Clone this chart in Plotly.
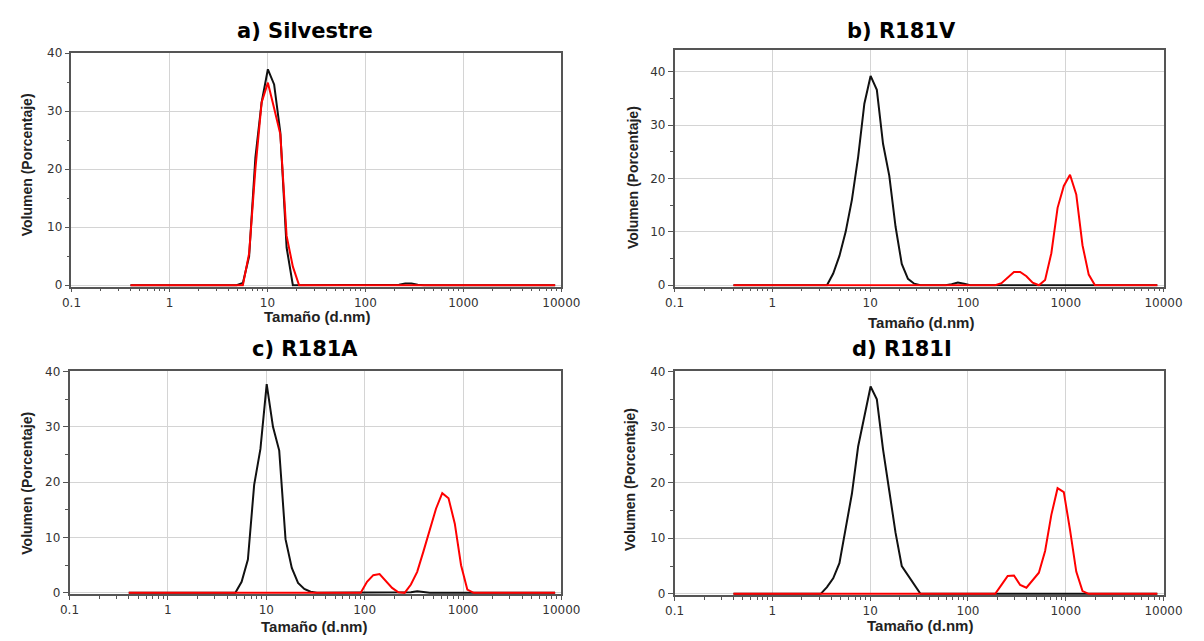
import plotly.graph_objects as go

# ---------------- data (size in nm, volume %) ----------------
a_black_x = [0.4, 4.849, 5.615, 6.503, 7.531, 8.721, 10.1, 11.7, 13.54, 15.69, 18.17, 190.1, 220.2, 255.0, 295.3, 342.0, 396.1, 8635]
a_black_y = [0, 0, 0.4, 5.0, 22.0, 31.5, 37.2, 34.6, 26.3, 6.5, 0, 0, 0.1, 0.3, 0.3, 0.1, 0, 0]
a_red_x = [0.4, 5.615, 6.503, 7.531, 8.721, 10.1, 11.7, 13.54, 15.69, 18.17, 21.04, 8635]
a_red_y = [0, 0, 5.5, 20.0, 31.5, 34.9, 30.5, 26.0, 8.5, 3.2, 0, 0]

b_black_x = [0.4, 3.615, 4.187, 4.849, 5.615, 6.503, 7.531, 8.721, 10.1, 11.7, 13.54, 15.69, 18.17, 21.04, 24.36, 28.21, 32.67, 58.77, 68.06, 78.82, 91.28, 105.7, 8635]
b_black_y = [0, 0, 2.2, 5.5, 10.0, 16.0, 24.0, 34.0, 39.2, 36.6, 26.5, 20.5, 11.0, 4.0, 1.2, 0.3, 0, 0, 0.2, 0.5, 0.3, 0, 0]
b_red_x = [0.4, 190.1, 220.2, 255.0, 295.3, 342.0, 396.1, 458.7, 531.2, 615.1, 712.4, 825.0, 955.4, 1106, 1281, 1484, 1718, 1990, 8635]
b_red_y = [0, 0, 0.4, 1.4, 2.5, 2.5, 1.7, 0.5, 0, 1.0, 6.0, 14.5, 18.6, 20.7, 17.0, 7.5, 2.0, 0, 0]

c_black_x = [0.4, 4.849, 5.615, 6.503, 7.531, 8.721, 10.1, 11.7, 13.54, 15.69, 18.17, 21.04, 24.36, 28.21, 32.67, 255.0, 295.3, 342.0, 396.1, 458.7, 8635]
c_black_y = [0, 0, 2.0, 6.0, 19.5, 26.0, 37.7, 30.0, 25.7, 9.7, 4.5, 1.8, 0.7, 0.2, 0, 0, 0.1, 0.3, 0.1, 0, 0]
c_red_x = [0.4, 91.28, 105.7, 122.4, 141.8, 164.2, 190.1, 220.2, 255.0, 295.3, 342.0, 396.1, 458.7, 531.2, 615.1, 712.4, 825.0, 955.4, 1106, 1281, 8635]
c_red_y = [0, 0, 2.0, 3.2, 3.4, 2.2, 0.9, 0.1, 0, 1.5, 3.8, 7.5, 11.5, 15.2, 18.0, 17.1, 12.5, 5.0, 0.6, 0, 0]

d_black_x = [0.4, 3.122, 3.615, 4.187, 4.849, 5.615, 6.503, 7.531, 8.721, 10.1, 11.7, 13.54, 15.69, 18.17, 21.04, 24.36, 28.21, 32.67, 8635]
d_black_y = [0, 0, 1.2, 2.8, 5.5, 11.5, 18.0, 26.5, 32.0, 37.3, 35.0, 26.0, 18.5, 11.0, 5.0, 3.3, 1.5, 0, 0]
d_red_x = [0.4, 190.1, 220.2, 255.0, 295.3, 342.0, 396.1, 458.7, 531.2, 615.1, 712.4, 825.0, 955.4, 1106, 1281, 1484, 1718, 8635]
d_red_y = [0, 0, 1.6, 3.2, 3.3, 1.6, 1.1, 2.4, 3.8, 7.7, 14.2, 19.0, 18.3, 11.5, 4.0, 0.5, 0, 0]

panel_titles = ["a) Silvestre", "b) R181V", "c) R181A", "d) R181I"]
x_tick_vals = [0.1, 1, 10, 100, 1000, 10000]
x_tick_text = ["0.1", "1", "10", "100", "1000", "10000"]
y_tick_vals = [0, 10, 20, 30, 40]
x_title = "Tamaño (d.nm)"
y_title = "Volumen (Porcentaje)"

W, H = 1204, 641

def px_x(p):
    return p / W

def px_y(p):
    return 1 - p / H

# panel geometry in pixels: (left, right, top, bottom, ymax)
panels = [
    (63, 565, 47, 285.5, 40),
    (681, 1182, 44.2, 285.4, 44),
    (61, 565, 372, 599.4, 40),
    (681, 1182, 372, 600.4, 40),
]

series = [
    (a_black_x, a_black_y, a_red_x, a_red_y),
    (b_black_x, b_black_y, b_red_x, b_red_y),
    (c_black_x, c_black_y, c_red_x, c_red_y),
    (d_black_x, d_black_y, d_red_x, d_red_y),
]

fig = go.Figure()
layout = {}
annotations = []

title_pos = [(302, 24), (914, 24), (302, 349), (914, 349)]
xt_pos = [(315, 316), (933, 322), (312, 632), (932, 631)]
yt_pos = [(17, 161), (639, 174), (18, 486), (636, 482)]

tick_font = dict(family="DejaVu Sans", size=12, color="#333333")

for i, ((l, r, t, b, ymax), (bx, by, rx, ry)) in enumerate(zip(panels, series)):
    n = "" if i == 0 else str(i + 1)
    xa, ya = "x" + n, "y" + n
    fig.add_trace(go.Scatter(x=bx, y=by, mode="lines", xaxis=xa, yaxis=ya,
                             line=dict(color="#111111", width=2), showlegend=False))
    fig.add_trace(go.Scatter(x=rx, y=ry, mode="lines", xaxis=xa, yaxis=ya,
                             line=dict(color="#ff0000", width=2), showlegend=False))
    layout["xaxis" + n] = dict(
        type="log", range=[-1, 4], domain=[px_x(l), px_x(r)], anchor=ya,
        tickvals=x_tick_vals, ticktext=x_tick_text,
        showgrid=True, gridcolor="#d4d4d4", gridwidth=1,
        showline=True, linecolor="#555555", linewidth=1.5, mirror=True,
        ticks="outside", ticklen=4, tickcolor="#555555",
        minor=dict(ticks="outside", ticklen=3, tickcolor="#555555", showgrid=False, dtick="D1"),
        tickfont=tick_font,
        zeroline=False, layer="below traces",
    )
    layout["yaxis" + n] = dict(
        range=[-0.25, ymax], domain=[px_y(b), px_y(t)], anchor=xa,
        tickvals=y_tick_vals,
        showgrid=True, gridcolor="#d4d4d4", gridwidth=1,
        showline=True, linecolor="#555555", linewidth=1.5, mirror=True,
        ticks="outside", ticklen=5, tickcolor="#555555",
        minor=dict(ticks="outside", ticklen=3, tickcolor="#555555", dtick=5, showgrid=False),
        tickfont=tick_font,
        zeroline=False, layer="below traces",
    )
    tx, ty = title_pos[i]
    annotations.append(dict(text="<b>" + panel_titles[i] + "</b>", x=px_x(tx), y=px_y(ty),
                            xref="paper", yref="paper", showarrow=False,
                            xanchor="center", yanchor="middle",
                            font=dict(family="DejaVu Sans", size=21, color="#000000")))
    xx, xy = xt_pos[i]
    annotations.append(dict(text="<b>" + x_title + "</b>", x=px_x(xx), y=px_y(xy),
                            xref="paper", yref="paper", showarrow=False,
                            xanchor="center", yanchor="middle",
                            font=dict(family="Liberation Sans, Arial", size=15, color="#222222")))
    yx, yy = yt_pos[i]
    annotations.append(dict(text="<b>" + y_title + "</b>", x=px_x(yx), y=px_y(yy),
                            xref="paper", yref="paper", showarrow=False, textangle=-90,
                            xanchor="center", yanchor="middle",
                            font=dict(family="Liberation Sans, Arial", size=14, color="#222222")))

fig.update_layout(**layout)
fig.update_layout(
    width=W, height=H, margin=dict(l=0, r=0, t=0, b=0),
    paper_bgcolor="white", plot_bgcolor="white",
    annotations=annotations, showlegend=False,
)

fig.write_html("out.html")
